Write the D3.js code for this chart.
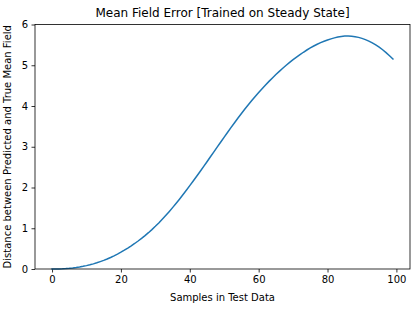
<!DOCTYPE html>
<html><head><meta charset="utf-8">
<script src="https://cdn.jsdelivr.net/npm/d3@7"></script>
<style>body{margin:0;background:#fff}svg{display:block}text{font-family:"DejaVu Sans",sans-serif;fill:#000}</style>
</head><body>
<svg id="c" width="416" height="309"></svg>
<script>
const samples = d3.range(100);
const distance = [0.000,0.001,0.003,0.006,0.011,0.018,0.027,0.038,0.051,0.066,
0.083,0.103,0.126,0.152,0.181,0.212,0.246,0.283,0.323,0.366,
0.412,0.461,0.513,0.568,0.626,0.687,0.751,0.819,0.891,0.967,
1.047,1.131,1.219,1.311,1.407,1.506,1.608,1.713,1.821,1.932,
2.046,2.160,2.276,2.394,2.513,2.633,2.754,2.875,2.996,3.117,
3.237,3.356,3.474,3.590,3.704,3.816,3.925,4.031,4.134,4.234,
4.331,4.425,4.516,4.604,4.689,4.771,4.850,4.926,4.999,5.069,
5.136,5.200,5.261,5.319,5.374,5.425,5.472,5.515,5.554,5.589,
5.620,5.648,5.672,5.692,5.707,5.715,5.717,5.713,5.702,5.684,
5.660,5.630,5.593,5.549,5.499,5.443,5.380,5.310,5.234,5.152];
const xTicks = [0,20,40,60,80,100];
const yTicks = [0,1,2,3,4,5,6];
const title = "Mean Field Error [Trained on Steady State]";
const xLabel = "Samples in Test Data";
const yLabel = "Distance between Predicted and True Mean Field";

const L=35,R=410,T=24.5,B=269;
const svg=d3.select("#c");
const x=d3.scaleLinear().domain([-4.95,103.95]).range([L,R]);
const y=d3.scaleLinear().domain([0,6]).range([B,T]);

const xa=svg.append("g").attr("transform",`translate(0,${B})`)
 .call(d3.axisBottom(x).tickValues(xTicks).tickSize(3.5).tickPadding(3.5).tickFormat(d3.format("d")));
const ya=svg.append("g").attr("transform",`translate(${L},0)`)
 .call(d3.axisLeft(y).tickValues(yTicks).tickSize(3.5).tickPadding(3.5).tickFormat(d3.format("d")));
[xa,ya].forEach(a=>{a.select(".domain").remove();a.selectAll("text").attr("font-size",10).attr("font-family","DejaVu Sans").attr("fill","#000");a.selectAll("line").attr("stroke","#000").attr("stroke-width",0.8);});

svg.append("path").datum(samples)
 .attr("fill","none").attr("stroke","#1f77b4").attr("stroke-width",1.5).attr("stroke-linecap","square")
 .attr("d",d3.line().x(i=>x(i)).y(i=>y(distance[i])));

svg.append("rect").attr("x",L).attr("y",T).attr("width",R-L).attr("height",B-T)
 .attr("fill","none").attr("stroke","#000").attr("stroke-width",0.8);

svg.append("text").attr("x",(L+R)/2).attr("y",17).attr("text-anchor","middle").attr("font-size",12).text(title);
svg.append("text").attr("x",(L+R)/2).attr("y",301).attr("text-anchor","middle").attr("font-size",10).text(xLabel);
svg.append("text").attr("transform",`translate(11,${(T+B)/2}) rotate(-90)`).attr("text-anchor","middle").attr("font-size",10).text(yLabel);
</script>
</body></html>
